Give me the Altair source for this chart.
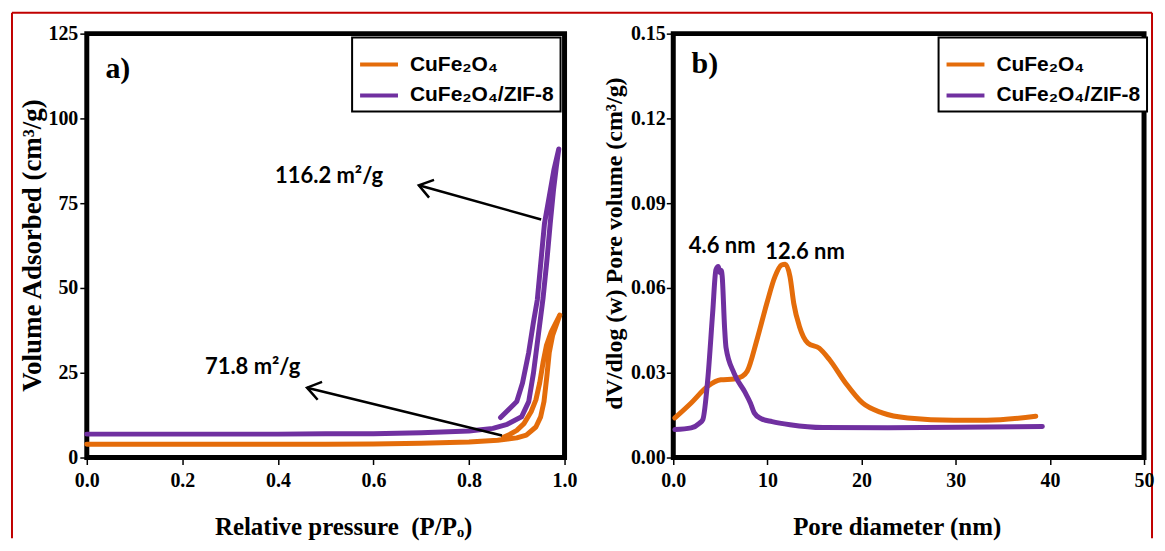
import altair as alt
import pandas as pd

SERIES = ["CuFe₂O₄", "CuFe₂O₄/ZIF-8"]
COLORS = ["#E46C0A", "#7030A0"]

# ---- a) N2 isotherms (adsorption branch then desorption branch) ----
cf_ads_p = [0.0, 0.1, 0.2, 0.3, 0.4, 0.5, 0.6, 0.7, 0.8, 0.86, 0.9, 0.92, 0.94, 0.95, 0.957, 0.963, 0.968, 0.975, 0.99]
cf_ads_v = [3.9, 3.9, 3.9, 3.9, 3.9, 3.9, 4.0, 4.2, 4.6, 5.1, 5.8, 6.6, 9.0, 12.0, 16.5, 24.0, 31.0, 36.0, 42.0]
cf_des_p = [0.99, 0.972, 0.962, 0.955, 0.948, 0.94, 0.93, 0.915, 0.9, 0.885, 0.872]
cf_des_v = [42.0, 37.0, 33.0, 28.0, 22.0, 17.0, 13.5, 10.0, 8.0, 6.8, 6.0]

zif_ads_p = [0.0, 0.1, 0.2, 0.3, 0.4, 0.5, 0.6, 0.7, 0.8, 0.85, 0.88, 0.91, 0.925, 0.935, 0.945, 0.955, 0.963, 0.97, 0.977, 0.983, 0.988]
zif_ads_v = [6.9, 6.9, 6.9, 6.9, 6.9, 7.0, 7.0, 7.3, 7.8, 8.6, 9.8, 12.0, 16.5, 25.0, 36.0, 47.0, 58.0, 69.0, 79.0, 86.0, 91.0]
zif_des_p = [0.988, 0.978, 0.968, 0.958, 0.95, 0.943, 0.935, 0.925, 0.912, 0.9, 0.866]
zif_des_v = [91.0, 85.0, 77.0, 69.0, 57.0, 46.5, 40.0, 31.0, 22.0, 16.5, 11.8]

# ---- b) pore size distribution ----
cf_d = [0.17, 1.9, 3.66, 5.05, 6.45, 7.32, 7.85, 8.89, 9.94, 10.8, 11.5, 11.9, 12.4, 12.8, 13.4, 14.3, 15.5, 16.6, 18.3, 20.1, 22.2, 24.9, 29.8, 33.3, 38.5]
cf_w = [0.0140, 0.0193, 0.0252, 0.0275, 0.0278, 0.0287, 0.0305, 0.0417, 0.0546, 0.0640, 0.0681, 0.0684, 0.0640, 0.0545, 0.0464, 0.0405, 0.0387, 0.0346, 0.0264, 0.0193, 0.0158, 0.0140, 0.0132, 0.0132, 0.0146]
zif_d = [0.17, 1.9, 2.8, 3.14, 3.66, 4.18, 4.53, 4.78, 4.95, 5.1, 5.2, 5.45, 5.6, 6.45, 7.6, 8.19, 8.6, 9.3, 10.5, 12.4, 15.9, 22.8, 33.3, 39.2]
zif_w = [0.0099, 0.0105, 0.0122, 0.0134, 0.0275, 0.0510, 0.0664, 0.0676, 0.0655, 0.0662, 0.0640, 0.0460, 0.0390, 0.0299, 0.0232, 0.0193, 0.0158, 0.0138, 0.0127, 0.0116, 0.0106, 0.0105, 0.0108, 0.0110]

# annotations
bet_text = ["116.2 m²/g", "71.8 m²/g"]
bet_x = [0.507, 0.347]
bet_y = [82.9, 26.8]
arrow_tail_x = [0.951, 0.869]
arrow_tail_y = [70.2, 6.5]
arrow_head_x = [0.695, 0.461]
arrow_head_y = [80.3, 20.6]
arrow_angle = [195.5, 193.8]

peak_text = ["4.6 nm", "12.6 nm"]
peak_x = [5.2, 14.0]
peak_y = [0.0748, 0.0727]

x_ticks_a = [0.0, 0.2, 0.4, 0.6, 0.8, 1.0]
y_ticks_a = [0, 25, 50, 75, 100, 125]
x_ticks_b = [0, 10, 20, 30, 40, 50]
y_ticks_b = [0.0, 0.03, 0.06, 0.09, 0.12, 0.15]


def series_frame(xs, ys, name, start=0):
    return pd.DataFrame({"x": xs, "y": ys, "series": name,
                         "i": list(range(start, start + len(xs)))})


iso = pd.concat([
    series_frame(cf_ads_p, cf_ads_v, SERIES[0]),
    series_frame(cf_des_p, cf_des_v, SERIES[0], 100),
    series_frame(zif_ads_p, zif_ads_v, SERIES[1]),
    series_frame(zif_des_p, zif_des_v, SERIES[1], 100),
], ignore_index=True)

psd = pd.concat([
    series_frame(cf_d, cf_w, SERIES[0]),
    series_frame(zif_d, zif_w, SERIES[1]),
], ignore_index=True)

arrows = pd.DataFrame({"x": arrow_tail_x, "y": arrow_tail_y,
                       "x2": arrow_head_x, "y2": arrow_head_y, "ang": arrow_angle})
bet = pd.DataFrame({"x": bet_x, "y": bet_y, "t": bet_text})
peaks = pd.DataFrame({"x": peak_x, "y": peak_y, "t": peak_text})

W_A, W_B, H = 479, 472, 425
RED = "#C00000"


def legend():
    return alt.Legend(title=None, orient="none", legendX=266, legendY=4,
                      symbolType="stroke", symbolSize=1444, symbolStrokeWidth=4,
                      labelFont="Liberation Sans", labelFontWeight="bold",
                      labelFontSize=21, labelColor="black", labelLimit=300,
                      labelOffset=10, strokeColor="black", fillColor="white",
                      padding=6, rowPadding=0)


color = alt.Color("series:N", scale=alt.Scale(domain=SERIES, range=COLORS), legend=legend())

xa = alt.X("x:Q", scale=alt.Scale(domain=[0, 1], nice=False),
           axis=alt.Axis(values=x_ticks_a, format=".1f", labelPadding=6,
                         title="Relative pressure\u2002(P/Pₒ)", titleFontSize=25,
                         titleX=257, titleY=77, titleBaseline="alphabetic"))
ya = alt.Y("y:Q", scale=alt.Scale(domain=[0, 125], nice=False),
           axis=alt.Axis(values=y_ticks_a, format="d", labelPadding=2,
                         title="Volume Adsorbed (cm³/g)", titleFontSize=27,
                         titleX=-54, titleY=212, titleBaseline="middle"))

lines_a = alt.Chart(iso).mark_line(strokeWidth=5, strokeCap="round", strokeJoin="round").encode(
    x=xa, y=ya, color=color, order="i:Q")

arrow_lines = alt.Chart(arrows).mark_rule(color="black", strokeWidth=2.5).encode(
    x="x:Q", y="y:Q", x2="x2:Q", y2="y2:Q")
arrow_heads = alt.Chart(arrows).mark_point(
    shape="M -1 -0.7 L 0 0 L -1 0.7", filled=False, stroke="black",
    strokeWidth=2.5, size=700, opacity=1).encode(
    x="x2:Q", y="y2:Q", angle=alt.Angle("ang:Q", scale=None))
bet_labels = alt.Chart(bet).mark_text(font="Lato", fontWeight="bold", fontSize=22,
                                      color="black").encode(x="x:Q", y="y:Q", text="t:N")
tag_a = alt.Chart(pd.DataFrame({"x": [0.065], "y": [114.7], "t": ["a)"]})).mark_text(
    font="Liberation Serif", fontWeight="bold", fontSize=30, color="black").encode(
    x="x:Q", y="y:Q", text="t:N")

frame_top = alt.Chart(pd.DataFrame({"k": [0]})).mark_rule(color=RED, strokeWidth=2).encode(
    x=alt.value(-75), x2=alt.value(1068), y=alt.value(-21))
frame_left = alt.Chart(pd.DataFrame({"k": [0]})).mark_rule(color=RED, strokeWidth=2).encode(
    x=alt.value(-75), y=alt.value(-21), y2=alt.value(506))
frame_right = alt.Chart(pd.DataFrame({"k": [0]})).mark_rule(color=RED, strokeWidth=2).encode(
    x=alt.value(1068), y=alt.value(-21), y2=alt.value(506))

left = alt.layer(frame_top, frame_left, frame_right, lines_a, arrow_lines, arrow_heads,
                 bet_labels, tag_a).properties(width=W_A, height=H)

xb = alt.X("x:Q", scale=alt.Scale(domain=[0, 50], nice=False),
           axis=alt.Axis(values=x_ticks_b, labelExpr="datum.value == 0 ? '0.0' : datum.label",
                         labelPadding=6, title="Pore diameter (nm)", titleFontSize=25,
                         titleX=224, titleY=77, titleBaseline="alphabetic"))
yb = alt.Y("y:Q", scale=alt.Scale(domain=[0, 0.15], nice=False),
           axis=alt.Axis(values=y_ticks_b, format=".2f", labelPadding=1,
                         title="dV/dlog (w) Pore volume (cm³/g)", titleFontSize=24,
                         titleX=-59, titleY=210, titleBaseline="middle"))
lines_b = alt.Chart(psd).mark_line(strokeWidth=5, strokeCap="round", strokeJoin="round",
                                   interpolate="monotone").encode(
    x=xb, y=yb, color=alt.Color("series:N", scale=alt.Scale(domain=SERIES, range=COLORS),
                                legend=legend()), order="i:Q")
peak_labels = alt.Chart(peaks).mark_text(font="Lato", fontWeight="bold", fontSize=22,
                                         color="black").encode(x="x:Q", y="y:Q", text="t:N")
tag_b = alt.Chart(pd.DataFrame({"x": [3.35], "y": [0.1394], "t": ["b)"]})).mark_text(
    font="Liberation Serif", fontWeight="bold", fontSize=30, color="black").encode(
    x="x:Q", y="y:Q", text="t:N")

right = alt.layer(lines_b, peak_labels, tag_b).properties(width=W_B, height=H)

chart = alt.hconcat(left, right, spacing=109, bounds="flush").resolve_legend(
    color="independent").properties(
    padding={"left": 0, "top": 0, "right": 0, "bottom": 0}).configure_view(
    stroke="black", strokeWidth=5).configure_axis(
    labelFont="Liberation Serif", labelFontWeight="bold", labelFontSize=20, labelColor="black",
    titleFont="Liberation Serif", titleFontWeight="bold", titleFontSize=24, titleColor="black",
    tickColor="black", tickWidth=1.5, tickSize=7, domain=False, grid=False,
    labelFlush=False, labelOverlap=False).configure_legend(strokeWidth=2)

chart.save("out.html", embed_options={"renderer": "svg", "actions": False})
